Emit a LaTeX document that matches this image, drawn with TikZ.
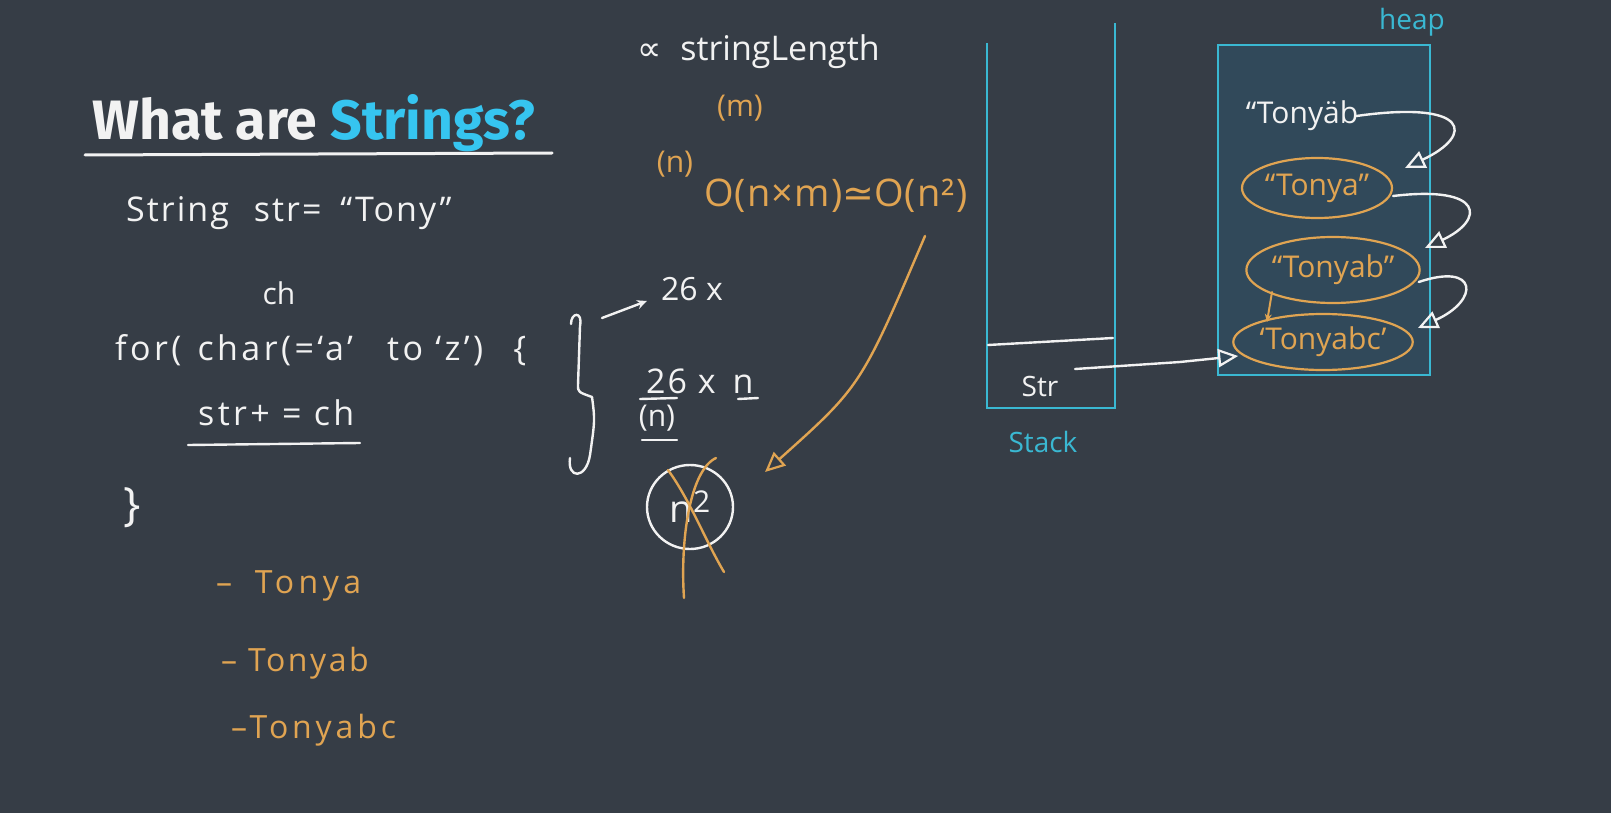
\documentclass[tikz,border=0pt]{standalone}
\usepackage{fontspec}
\usepackage{graphicx}
\setmainfont{Open Sans}
\newfontfamily\titlefont{Fira Sans}
\newfontfamily\symfont{DejaVu Sans}
\usetikzlibrary{arrows.meta,positioning,shapes.geometric,calc}
\definecolor{boardBg}{HTML}{363D46}
\definecolor{boardWhite}{HTML}{F2F2F2}
\definecolor{boardOrange}{HTML}{E0A452}
\definecolor{boardCyan}{HTML}{3AB8D2}
\definecolor{titleCyan}{HTML}{36C5F0}
\definecolor{heapFill}{HTML}{31495A}
\newcommand{\spread}[1]{\addfontfeature{LetterSpace=#1}}
\tikzset{
  chalk/.style={font=\fontsize{#1}{#1}\selectfont, text=boardWhite, inner sep=0pt},
  amber/.style={font=\fontsize{#1}{#1}\selectfont, text=boardOrange, inner sep=0pt},
  tealtxt/.style={font=\fontsize{#1}{#1}\selectfont, text=boardCyan, inner sep=0pt},
  pen/.style={draw=boardWhite, line width=2.4pt, line cap=round, line join=round},
  orpen/.style={draw=boardOrange, line width=2.4pt, line cap=round, line join=round},
  cypen/.style={draw=boardCyan, line width=2.2pt},
  blob/.style={ellipse, draw=boardOrange, line width=2.2pt, inner sep=0pt, text=boardOrange, font=\fontsize{30}{30}\selectfont},
  openhead/.style={-{Triangle[open, length=20pt, width=18pt, line width=2.2pt]}}
}

\begin{document}
\begin{tikzpicture}[x=1pt,y=-1pt]
\fill[boardBg] (0,0) rectangle (1611,813);
\useasboundingbox (0,0) rectangle (1611,813);

% title
\node[anchor=base west, inner sep=0pt] (title) at (92,140)
  {\resizebox{443pt}{45pt}{\titlefont\bfseries\color{boardWhite}What are \textcolor{titleCyan}{Strings?}}};
\draw[pen, line width=3pt] (85,155) -- (552,153);

% code on the left
\node[chalk=34, anchor=west] (decl) at (126,213) {\spread{6}String\hspace{14pt} str= \hspace{8pt}“Tony”};
\node[chalk=30] (chvar) at (279,293) {ch};
\node[chalk=34, anchor=west] (loop) at (115,350) {\spread{10}for(\hspace{4pt} char(=‘a’\hspace{22pt} to ‘z’)\hspace{18pt} \{};
\node[chalk=34, anchor=west] (body) at (198,413) {\spread{10}str+ = ch};
\draw[pen] (188,445) -- (360,443);
\node[chalk=46] (close) at (132,508) {\}};

% trace of the loop
\node[amber=32, anchor=west] (itA) at (216,586) {\spread{14}–\hspace{10pt} Tonya};
\node[amber=32, anchor=west] (itB) at (221,663) {\spread{8}– Tonyab};
\node[amber=32, anchor=west] (itC) at (231,730) {\spread{12}–Tonyabc};

% complexity notes
\node[chalk=34, anchor=west] (prop) at (637,52) {{\symfont ∝}\hspace{10pt} stringLength};
\node[amber=30] (mlen) at (740,108) {(m)};
\node[amber=30] (nlen) at (675,164) {(n)};
\node[amber=38, anchor=west] (bigO) at (704,196) {\spread{3}O(n×m){\symfont ≃}O(n²)};

\draw[pen] (571,324) .. controls (571,312) and (583,311) .. (580,326) -- (578,385)
  .. controls (578,392) .. (592,397) .. controls (595,420) .. (590,455)
  .. controls (586,480) and (567,479) .. (570,458);
\node[chalk=32] (perchar) at (692,289) {26 x};
\coordinate (braceTip) at (602,318);
\draw[pen, -{Stealth[length=10pt, width=9pt]}] (braceTip) -- ($(perchar.west)+(-14,12)$);

\node[chalk=34, anchor=west] (times) at (646,381) {\spread{6}26 x\hspace{6pt} n};
\draw[pen] (738,399) -- (758,398);
\node[chalk=30] (nbox) at (657,418) {(n)};
\draw[pen] (640,399) -- (677,398);
\draw[pen] (642,440) -- (677,440);

\node[ellipse, draw=boardWhite, line width=2.4pt, minimum width=86pt, minimum height=84pt, chalk=38] (sq) at (690,507)
  {n\raisebox{10pt}{\fontsize{30}{30}\selectfont 2}};
\coordinate (crossA) at (668,470);
\coordinate (crossB) at (724,572);
\coordinate (crossC) at (716,458);
\coordinate (crossD) at (684,598);
\draw[orpen] (crossA) .. controls (690,500) and (705,540) .. (crossB);
\draw[orpen] (crossC) .. controls (690,470) and (680,540) .. (crossD);

\coordinate (fromO) at (925,236);
\coordinate (toSq) at (765,472);
\draw[orpen, openhead] (fromO) .. controls (861,386) .. (toSq);

% stack
\draw[cypen] (987,43) -- (987,408) -- (1115,408) -- (1115,23);
\draw[pen] (988,345) -- (1113,338);
\node[chalk=28] (strvar) at (1040,386) {Str};
\node[tealtxt=28] (stacklbl) at (1043,442) {Stack};

% heap
\node[rectangle, draw=boardCyan, fill=heapFill, line width=2pt, minimum width=212pt, minimum height=330pt] (heap) at (1324,210) {};
\node[tealtxt=28] (heaplbl) at (1412,22) {heap};
\node[chalk=30] (old) at (1302,116) {“Tonyäb};
\node[blob, minimum width=150pt, minimum height=60pt] (sA) at (1317,188) {“Tonya”};
\node[blob, minimum width=164pt, minimum height=66pt] (sB) at (1333,270) {“Tonyab”};
\node[blob, minimum width=176pt, minimum height=56pt] (sC) at (1323,342) {‘Tonyabc’};

\coordinate (tipA) at (1405,168);
\coordinate (tipB) at (1425,248);
\coordinate (tipC) at (1418,328);
\draw[pen, openhead] ($(old.east)+(-2,0)$) .. controls (1470,100) and (1475,135) .. (tipA);
\draw[pen, openhead] ($(sA.east)+(0,8)$) .. controls (1485,185) and (1485,220) .. (tipB);
\draw[pen, openhead] ($(sB.east)+(-2,12)$) .. controls (1478,262) and (1480,300) .. (tipC);
\draw[orpen, line width=2pt, -{Stealth[length=8pt, width=7pt]}] (1272,292) -- (1267,322);

\coordinate (strTail) at (1075,369);
\draw[pen, openhead] (strTail) -- (1180,362) -- ($(sC.west)+(6,14)$);

\end{tikzpicture}
\end{document}
